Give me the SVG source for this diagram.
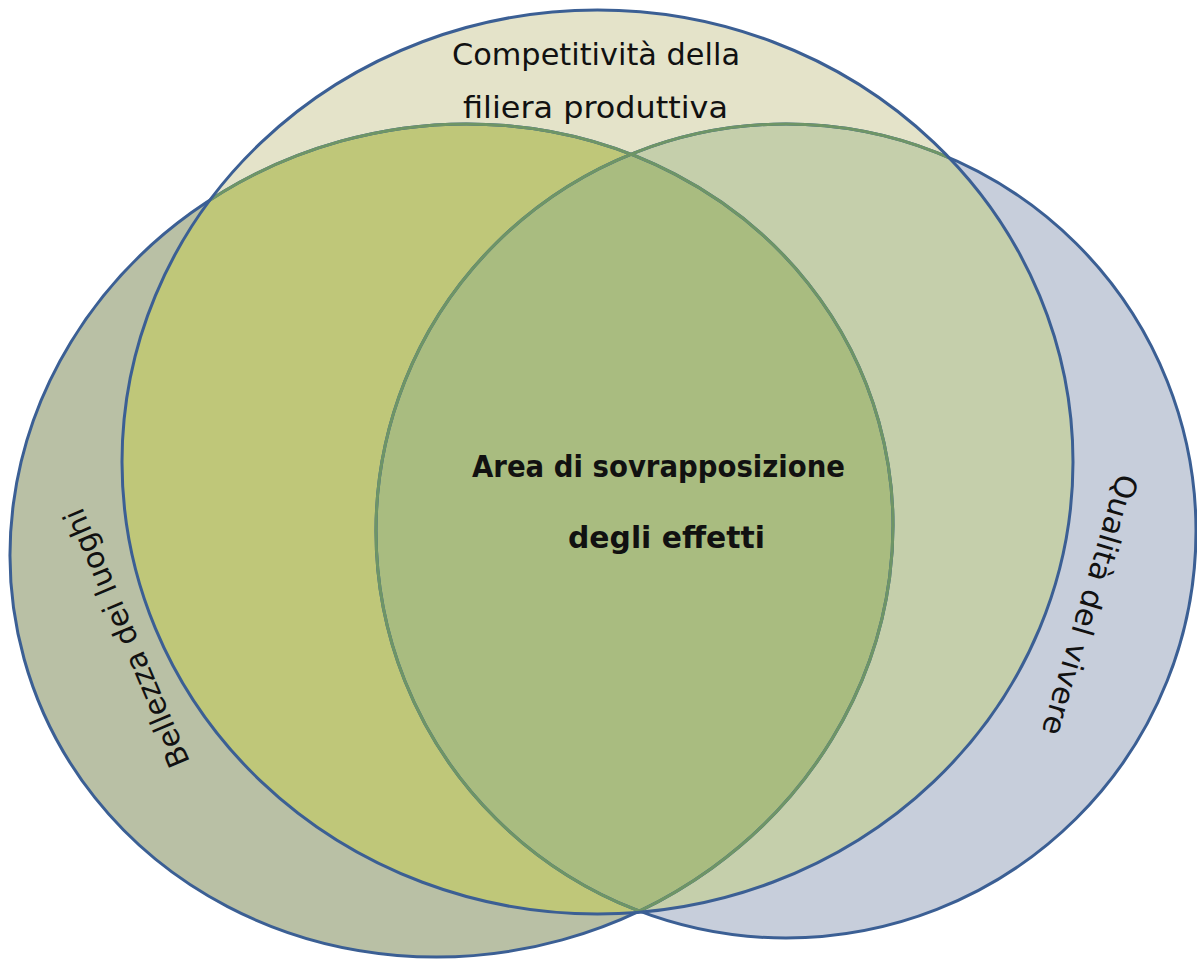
<svg xmlns="http://www.w3.org/2000/svg" width="1197" height="959" viewBox="0 0 1197 959">
  <style>
    .lbl { font-family: "DejaVu Sans", "Liberation Sans", sans-serif; font-size: 30px; fill: #111; }
    .bold { font-weight: bold; }
    .blue { fill: none; stroke: #3b5f94; stroke-width: 3; }
    .green { fill: none; stroke: #6e9566; stroke-width: 3; }
  </style>
  <defs>
    <ellipse id="eL" cx="451.5" cy="540.5" rx="443.5" ry="414.4" transform="rotate(-15.5 451.5 540.5)"/>
    <ellipse id="eR" cx="786" cy="531" rx="410" ry="407"/>
    <ellipse id="eT" cx="597.5" cy="462" rx="475.5" ry="452"/>
    <clipPath id="cL"><use href="#eL"/></clipPath>
    <clipPath id="cR"><use href="#eR"/></clipPath>
    <clipPath id="cT"><use href="#eT"/></clipPath>
  </defs>

  <g id="bellezza">
    <use href="#eL" fill="#b9c0a5"/>
    <text class="lbl" x="0" y="0" text-anchor="middle" textLength="278" lengthAdjust="spacingAndGlyphs" transform="translate(136,634) rotate(-113)">Bellezza dei luoghi</text>
  </g>

  <g id="qualita">
    <use href="#eR" fill="#c7cedb"/>
    <g clip-path="url(#cL)"><use href="#eR" fill="#aab4a6"/></g>
    <text class="lbl" x="0" y="0" text-anchor="middle" textLength="270" lengthAdjust="spacingAndGlyphs" transform="translate(1080,602) rotate(106.5)">Qualità del vivere</text>
  </g>

  <g id="competitivita">
    <use href="#eT" fill="#e4e3c9"/>
    <g clip-path="url(#cT)">
      <use href="#eL" fill="#bfc779"/>
      <use href="#eR" fill="#c5cfab"/>
    </g>
    <text class="lbl" x="596" y="65" text-anchor="middle" textLength="288" lengthAdjust="spacingAndGlyphs">Competitività della</text>
    <text class="lbl" x="595.5" y="118" text-anchor="middle" textLength="265" lengthAdjust="spacingAndGlyphs">filiera produttiva</text>
  </g>

  <g id="sovrapposizione">
    <g clip-path="url(#cT)">
      <g clip-path="url(#cL)"><use href="#eR" fill="#a9bc80"/></g>
    </g>
    <text class="lbl bold" x="658.5" y="477" text-anchor="middle" textLength="373" lengthAdjust="spacingAndGlyphs">Area di sovrapposizione</text>
    <text class="lbl bold" x="666.5" y="548" text-anchor="middle" textLength="197" lengthAdjust="spacingAndGlyphs">degli effetti</text>
  </g>

  <g id="connectors">
    <use href="#eL" class="blue"/>
    <use href="#eR" class="blue"/>
    <g clip-path="url(#cT)">
      <use href="#eL" class="green"/>
      <use href="#eR" class="green"/>
    </g>
    <use href="#eT" class="blue"/>
  </g>
</svg>
